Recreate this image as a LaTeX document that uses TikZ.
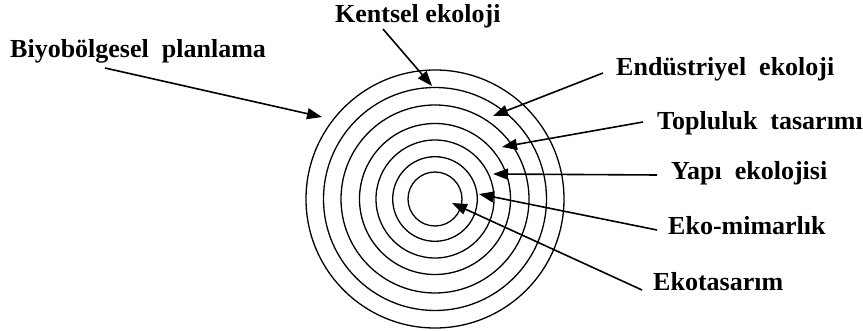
\documentclass[tikz,border=0pt]{standalone}
\usepackage{fontspec}
\setmainfont{Liberation Serif}
\usepackage{tikz}
\usetikzlibrary{arrows.meta,calc}
\tikzset{
label/.style={
anchor=base west,
inner sep=0pt,
font=\fontsize{26}{30}\selectfont\bfseries
},
ring/.style={
draw,
line width=1.3pt
},
arrow/.style={
-{Triangle[length=15pt,width=11pt]},
line width=1.6pt
}
}

\begin{document}
\begin{tikzpicture}[x=1pt,y=-1pt]
\useasboundingbox (0,0) rectangle (863,331);

% concentric rings
\coordinate (centre) at (435,199);
\foreach \r in {129,111.5,94,75.5,59,42.3,27}
  \draw[ring] (centre) circle (\r pt);

% labels
\node[label] (kentsel) at (335,23) {Kentsel ekoloji};
\node[label] (biyo) at (10,58) {Biyobölgesel\ \ planlama};
\node[label] (endustri) at (616,76) {Endüstriyel\ \ ekoloji};
\node[label] (topluluk) at (657,130) {Topluluk\ \ tasarımı};
\node[label] (yapi) at (671,180) {Yapı\ \ ekolojisi};
\node[label] (ekomimar) at (668,235) {Eko-mimarlık};
\node[label] (ekotasarim) at (653,291) {Ekotasarım};

% arrow tips
\coordinate (kentselTip) at (432,86);
\coordinate (biyoTip) at (322,117);
\coordinate (endustriTip) at (493,116);
\coordinate (toplulukTip) at (502,147);
\coordinate (yapiTip) at (493,174);
\coordinate (ekomimarTip) at (479,194);
\coordinate (ekotasarimTip) at (452,203);

\draw[arrow] ([shift={(48,6)}]kentsel.base west) -- (kentselTip);
\draw[arrow] ([shift={(95,10)}]biyo.base west) -- (biyoTip);
\draw[arrow] ([shift={(-13,-3)}]endustri.base west) -- (endustriTip);
\draw[arrow] ([shift={(-14,-8)}]topluluk.base west) -- (toplulukTip);
\draw[arrow] ([shift={(-14,-5)}]yapi.base west) -- (yapiTip);
\draw[arrow] ([shift={(-11,-5)}]ekomimar.base west) -- (ekomimarTip);
\draw[arrow] ([shift={(-11,-1)}]ekotasarim.base west) -- (ekotasarimTip);
\end{tikzpicture}
\end{document}
